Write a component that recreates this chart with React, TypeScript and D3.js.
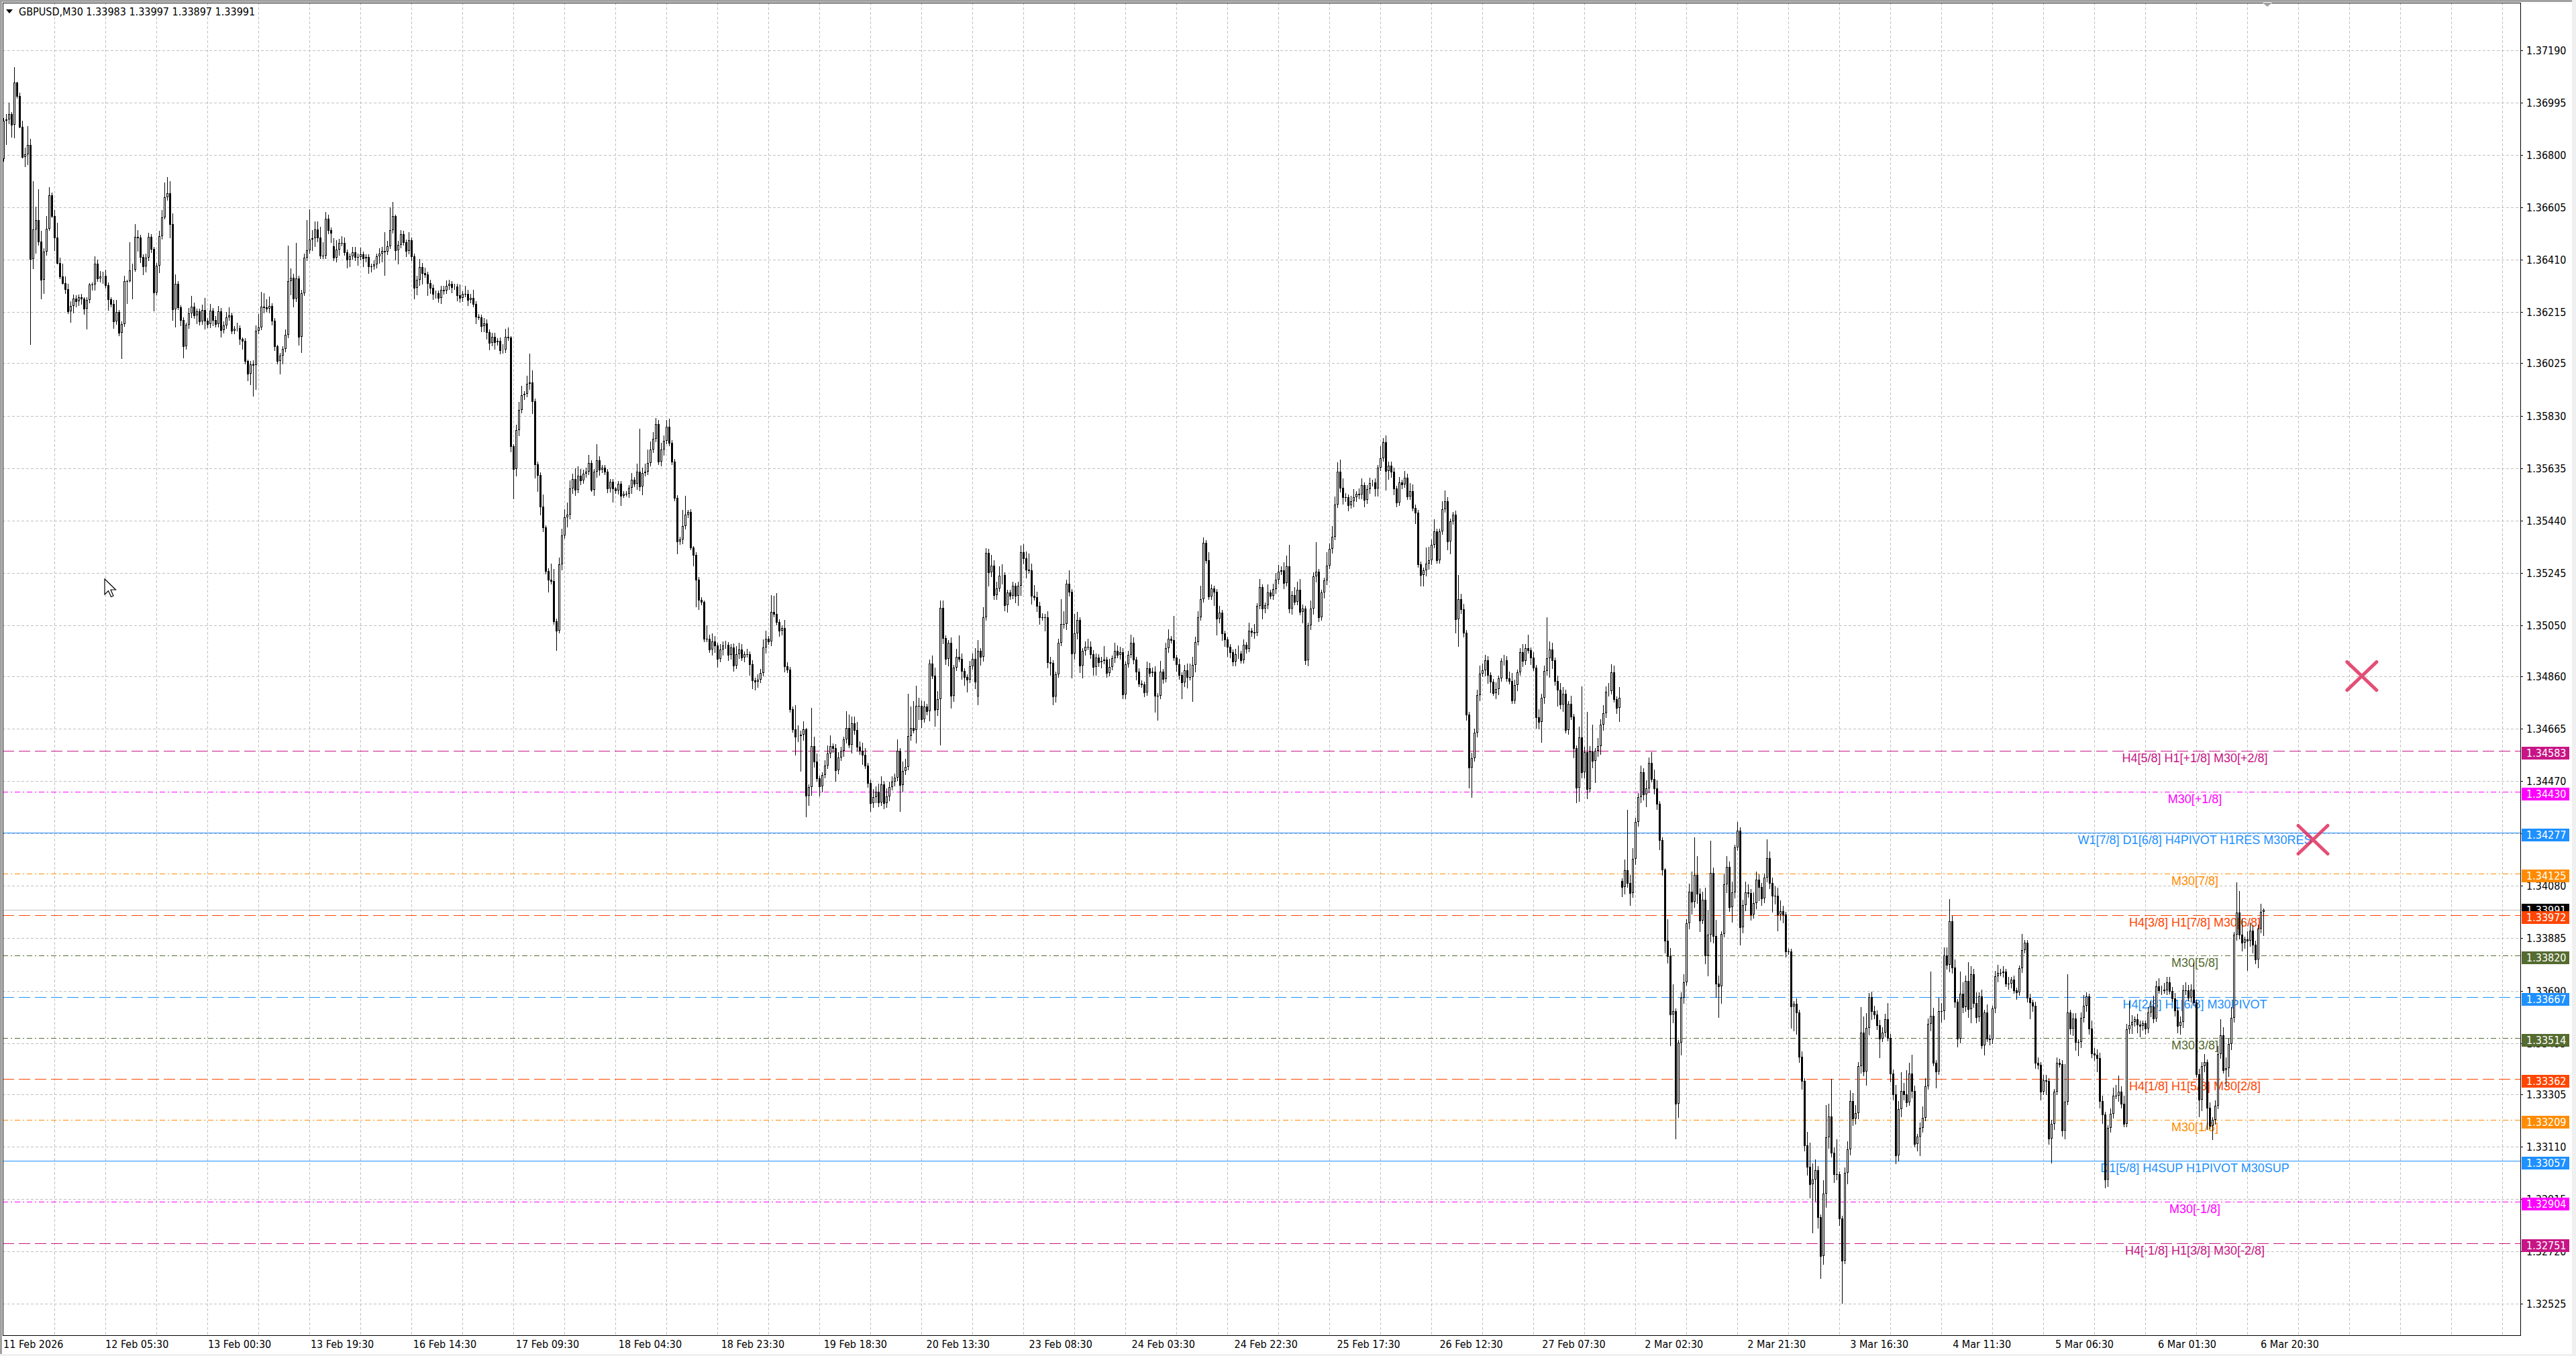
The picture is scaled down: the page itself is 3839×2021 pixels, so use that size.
import * as d3 from "d3";

// GBPUSD M30 candles, one array per trading day.
// each bar: [close, upper wick, lower wick] in 1e-5 above 1.30000; open = previous close
type Bar = [number, number, number];

const feb11: Bar[] = [
  [6927,10,8],[6934,18,87],[6954,42,15],[6913,5,44],[7069,58,48],[7019,4,6],[6906,14,4],[6794,21,4],[6804,23,37],[6837,72,39],
  [6414,24,319],[6524,180,36],[6559,48,88],[6478,114,13],[6335,40,69],[6440,13,48],[6526,48,12],[6650,31,6],[6574,11,5],[6494,22,49],
  [6399,55,4],[6349,19,8],[6324,46,4],[6301,25,14],[6218,19,6],[6239,18,40],[6267,15,26],
];
const feb12: Bar[] = [
  [6255,12,20],[6271,10,15],[6266,12,20],[6228,6,20],[6262,10,75],[6318,6,10],[6318,8,20],[6395,29,19],[6340,15,10],[6349,20,12],
  [6351,15,25],[6316,23,10],[6263,10,40],[6247,8,12],[6182,15,25],[6216,45,10],[6138,8,10],[6171,10,95],[6332,20,8],[6332,5,83],
  [6371,104,4],[6374,21,106],[6496,46,6],[6494,24,50],[6421,8,20],[6386,10,30],[6419,15,20],[6496,15,10],[6451,10,12],[6288,8,66],
  [6388,10,8],[6499,20,25],[6567,28,10],[6644,55,5],[6657,61,12],[6544,46,50],[6226,38,39],[6320,37,64],[6233,10,8],[6187,8,20],
  [6089,10,44],[6168,8,10],[6212,20,12],[6235,40,15],[6203,15,10],[6218,10,30],[6180,10,12],[6224,20,10],
];
const feb13: Bar[] = [
  [6184,45,30],[6170,10,12],[6220,25,12],[6186,10,20],[6170,15,10],[6218,20,8],[6149,12,25],[6166,15,10],[6197,20,10],[6203,30,12],
  [6147,10,12],[6153,10,10],[6155,20,8],[6116,10,20],[6108,5,30],[6033,10,10],[5987,5,25],[6022,12,40],[6018,15,114],[6147,20,90],
  [6159,50,10],[6237,54,8],[6234,50,20],[6228,30,10],[6239,35,15],[6183,10,15],[6089,10,15],[6033,5,10],[6053,10,46],[6078,10,30],
  [6130,20,10],[6332,131,10],[6343,35,50],[6266,15,30],[6340,134,10],[6124,10,30],[6287,12,58],[6418,15,8],[6445,112,10],[6485,114,10],
  [6490,30,40],[6524,30,30],[6494,30,15],[6426,40,10],[6426,50,10],[6563,25,10],[6520,15,12],[6511,10,35],
];
const feb16: Bar[] = [
  [6418,30,10],[6449,35,15],[6474,15,20],[6474,25,10],[6438,20,10],[6410,10,30],[6424,10,25],[6438,20,10],[6420,20,12],[6421,12,30],
  [6430,25,10],[6416,10,30],[6421,10,12],[6386,10,25],[6385,10,20],[6393,15,10],[6424,10,12],[6433,20,25],[6443,15,30],[6441,70,87],
  [6461,20,10],[6521,85,8],[6573,52,10],[6447,5,37],[6466,15,50],[6505,15,10],[6475,12,10],[6443,10,20],[6483,30,10],[6424,10,15],
  [6305,10,40],[6337,15,25],[6383,30,20],[6361,15,40],[6357,20,10],[6324,10,45],[6307,12,20],[6283,12,20],[6285,10,15],[6268,12,15],
  [6298,15,20],[6295,15,12],[6313,20,10],[6321,15,12],[6309,10,20],[6312,10,8],[6279,8,20],[6268,40,15],
];
const feb17: Bar[] = [
  [6283,10,12],[6283,30,10],[6260,15,20],[6268,15,10],[6246,30,10],[6198,10,25],[6196,10,8],[6164,10,20],[6173,20,20],[6142,15,25],
  [6101,10,25],[6123,15,10],[6103,15,25],[6109,10,10],[6073,12,12],[6075,20,10],[6123,30,8],[6120,35,10],[5716,5,20],[5632,8,111],
  [5777,20,25],[5852,30,20],[5906,35,10],[5911,10,15],[5950,30,10],[5953,109,20],[5883,45,45],[5649,10,50],[5610,10,60],[5493,10,30],
  [5415,45,15],[5253,8,10],[5220,10,45],[5214,60,10],[5064,45,8],[5030,10,72],[5276,25,8],[5384,25,20],[5451,30,10],[5462,45,35],
  [5558,30,15],[5593,20,15],[5554,40,20],[5607,35,10],[5588,25,15],[5613,15,10],[5621,15,12],[5655,30,10],
];
const feb18: Bar[] = [
  [5554,10,5],[5621,10,20],[5663,60,20],[5629,15,20],[5636,10,10],[5621,10,10],[5560,10,15],[5584,10,12],[5560,10,50],[5551,5,10],
  [5577,10,12],[5532,10,35],[5540,10,5],[5540,10,8],[5562,10,12],[5591,25,20],[5577,10,10],[5621,30,20],[5566,160,15],[5616,20,30],
  [5621,30,10],[5655,50,10],[5703,30,10],[5744,25,10],[5800,22,10],[5658,15,10],[5703,25,15],[5736,20,20],[5788,25,10],[5729,31,10],
  [5660,10,10],[5524,10,10],[5361,10,45],[5370,10,8],[5420,60,15],[5462,70,10],[5471,8,10],[5339,10,8],[5312,5,40],[5220,10,100],
  [5145,10,35],[5136,10,10],[4999,5,10],[4999,50,10],[4960,15,10],[4989,30,20],[4974,20,25],[4924,10,30],
];
const feb19: Bar[] = [
  [4960,20,10],[4974,15,20],[4978,15,10],[4941,10,20],[4967,12,15],[4901,15,20],[4942,30,10],[4961,25,15],[4930,20,10],[4942,10,15],
  [4942,20,10],[4905,10,40],[4844,15,30],[4840,10,30],[4848,20,20],[4872,15,10],[4967,30,10],[5001,30,20],[4991,10,10],[5099,64,15],
  [5092,60,10],[5063,77,10],[5030,10,20],[5040,10,15],[4897,30,20],[4884,15,10],[4738,12,10],[4663,10,10],[4634,90,65],[4638,40,15],
  [4643,15,130],[4663,30,20],[4416,4,77],[4449,10,35],[4601,142,30],[4543,35,20],[4480,30,10],[4451,10,35],[4493,10,20],[4528,20,10],
  [4572,30,10],[4601,40,15],[4594,10,15],[4511,15,40],[4557,20,12],[4584,15,10],[4626,10,20],[4668,62,12],
];
const feb20: Bar[] = [
  [4605,50,10],[4684,25,30],[4659,25,15],[4597,30,15],[4583,20,12],[4569,30,35],[4528,25,10],[4464,10,15],[4389,12,30],[4410,30,15],
  [4430,20,20],[4391,30,15],[4459,30,10],[4389,12,20],[4412,30,15],[4449,20,15],[4469,20,10],[4482,15,15],[4584,42,10],[4455,10,96],
  [4507,35,25],[4522,30,12],[4637,158,10],[4668,80,15],[4659,100,10],[4751,75,45],[4750,30,50],[4701,20,30],[4748,20,10],[4730,10,12],
  [4907,16,35],[4863,30,10],[4734,30,60],[4776,30,20],[5115,27,170],[5003,27,20],[4926,10,20],[4986,10,25],[4787,20,44],[4892,10,20],
  [4932,30,10],[4926,80,10],[4880,20,30],[4857,10,30],[4847,10,45],[4897,20,10],[4926,20,10],[4840,40,25],
];
const feb23: Bar[] = [
  [4955,40,30],[4932,10,30],[5081,35,15],[5319,19,10],[5246,15,50],[5273,40,15],[5163,20,15],[5188,25,15],[5234,35,12],[5236,40,30],
  [5125,10,20],[5171,10,25],[5159,12,12],[5198,15,10],[5159,10,25],[5198,15,35],[5323,25,35],[5300,30,20],[5256,25,30],[5254,60,10],
  [5159,25,30],[5155,40,10],[5123,20,20],[5080,15,25],[5080,15,10],[5081,10,50],[4913,20,20],[4909,20,45],[4784,10,30],[4867,10,20],
  [4984,15,10],[5056,90,10],[5056,45,15],[5205,15,20],[5175,50,15],[4945,10,90],[5021,70,20],[5070,30,20],[4899,10,25],[4956,10,45],
  [4971,20,15],[4971,30,10],[4942,20,15],[4896,15,30],[4931,15,30],[4913,12,15],[4917,15,20],[4923,50,10],
];
const feb24: Bar[] = [
  [4873,10,15],[4896,30,10],[4927,10,10],[4956,30,15],[4940,20,10],[4949,20,15],[4792,15,15],[4905,10,15],[4940,15,10],[4986,30,10],
  [4923,20,15],[4878,10,30],[4832,12,10],[4830,12,10],[4801,10,15],[4891,25,10],[4872,20,12],[4878,15,12],[4788,20,60],[4787,10,90],
  [4878,40,10],[4851,10,15],[4966,20,10],[5001,35,15],[4996,10,10],[4931,90,10],[4906,10,25],[4865,20,15],[4837,10,60],[4882,20,15],
  [4857,25,40],[4857,50,10],[4903,30,90],[4988,20,25],[5081,20,10],[5148,50,10],[5356,20,10],[5292,12,10],[5156,30,10],[5186,15,10],
  [5175,10,50],[5075,10,60],[5096,25,15],[5021,10,25],[4998,10,25],[4971,10,35],[4951,10,20],[4915,10,15],
];
const feb25: Bar[] = [
  [4942,20,15],[4945,30,15],[4921,10,10],[4978,20,10],[4963,10,15],[5031,30,10],[5025,10,15],[5023,30,20],[5121,10,10],[5192,30,10],
  [5111,10,35],[5125,10,15],[5171,30,12],[5160,10,10],[5184,20,12],[5219,25,15],[5250,25,15],[5254,15,10],[5206,30,20],[5269,40,10],
  [5111,80,15],[5163,15,20],[5138,30,10],[5181,30,10],[5100,40,10],[5111,15,40],[4921,10,15],[5050,10,20],[5111,30,15],[5231,15,20],
  [5250,110,20],[5081,10,15],[5173,10,10],[5217,10,20],[5271,50,15],[5334,20,10],[5379,40,15],[5500,30,10],[5622,35,10],[5561,45,15],
  [5527,35,25],[5527,15,15],[5498,10,20],[5511,20,12],[5527,30,20],[5539,10,15],[5537,20,15],[5572,25,15],
];
const feb26: Bar[] = [
  [5517,10,25],[5556,15,12],[5579,20,15],[5581,10,10],[5558,15,25],[5636,10,25],[5672,45,10],[5731,15,10],[5625,25,70],[5644,15,30],
  [5621,15,20],[5558,15,20],[5508,10,15],[5581,20,10],[5575,10,15],[5600,25,10],[5529,15,10],[5550,30,10],[5487,25,10],[5469,12,40],
  [5278,10,10],[5236,10,40],[5254,10,40],[5279,60,20],[5292,50,20],[5350,20,15],[5400,45,10],[5292,10,10],[5400,10,10],[5483,30,10],
  [5511,40,10],[5363,15,30],[5436,10,45],[5461,10,10],[5073,15,50],[5148,90,100],[5109,20,15],[5023,20,15],[4717,10,20],[4520,10,74],
  [4556,20,110],[4651,15,10],[4790,20,15],[4869,30,20],[4882,25,10],[4919,20,20],[4866,15,30],[4841,10,40],
];
const feb27: Bar[] = [
  [4797,10,8],[4812,25,20],[4852,10,20],[4917,10,10],[4921,20,15],[4852,15,10],[4842,25,10],[4771,30,10],[4828,20,10],[4876,10,20],
  [4949,15,10],[4917,30,20],[4965,15,12],[4957,50,10],[4930,10,25],[4892,20,10],[4707,10,40],[4691,30,25],[4780,15,75],[4881,20,20],
  [4928,151,15],[4959,30,70],[4921,25,30],[4842,10,15],[4809,20,60],[4754,25,15],[4795,25,25],[4661,15,10],[4758,10,15],[4711,30,10],
  [4594,10,35],[4446,10,55],[4632,40,50],[4503,190,20],[4577,20,20],[4441,150,35],[4580,20,10],[4546,100,25],[4582,10,80],[4601,30,20],
  [4680,20,30],[4723,30,20],[4802,20,15],[4806,30,15],[4876,30,10],[4776,25,10],[4742,10,20],[4780,40,50],
];
const mar02: Bar[] = [
  [4075,10,35],[4139,40,25],[4092,223,15],[4053,30,45],[4181,40,15],[4319,15,20],[4411,15,15],[4502,25,20],[4421,15,20],[4443,30,45],
  [4539,20,15],[4477,40,10],[4443,35,20],[4386,30,20],[4250,10,35],[4142,10,20],[3875,5,45],[3819,80,25],[3602,30,115],[3614,100,30],
  [3270,10,130],[3497,10,50],[3663,20,45],[3720,30,20],[3941,15,10],[4058,30,20],[4022,75,46],[4121,139,20],[4051,70,35],[3951,20,40],
  [4028,30,10],[3822,45,30],[3899,90,75],[4129,120,25],[3893,20,25],[3716,60,50],[3705,30,113],[3902,10,60],[4086,40,10],[4151,40,30],
  [4002,20,15],[4056,40,55],[4224,10,20],[4286,32,10],[3925,12,65],[4009,20,20],[4056,40,20],[4054,30,15],
];
const mar03: Bar[] = [
  [3974,15,20],[4015,40,12],[4103,30,20],[4077,20,50],[4034,15,25],[4112,15,15],[4183,70,15],[4090,25,20],[4043,20,60],[4043,35,30],
  [3974,30,60],[3987,40,20],[3974,20,30],[3837,10,20],[3837,10,10],[3631,10,80],[3641,10,90],[3609,20,80],[3445,10,20],[3355,20,30],
  [3115,10,20],[3035,50,30],[2970,90,50],[2986,60,181],[3022,40,80],[2848,15,40],[2702,10,83],[2934,50,30],[3144,120,50],[3222,47,40],
  [3086,140,15],[3006,20,30],[3006,130,20],[2841,10,25],[2686,10,158],[3012,20,10],[3099,30,40],[3280,40,20],[3215,30,25],[3235,30,20],
  [3409,15,20],[3535,95,25],[3389,60,15],[3551,55,50],[3667,15,25],[3615,20,30],[3602,20,15],[3561,15,15],
];
const mar04: Bar[] = [
  [3512,20,70],[3535,20,10],[3583,20,15],[3515,60,10],[3381,15,30],[3303,15,20],[3076,35,30],[3248,30,20],[3316,70,25],[3303,30,20],
  [3273,90,15],[3381,40,10],[3316,70,25],[3119,20,10],[3148,10,25],[3179,20,70],[3218,40,15],[3334,30,10],[3566,20,10],[3596,165,25],
  [3422,30,10],[3389,10,60],[3615,50,10],[3613,30,40],[3822,30,30],[3786,30,15],[3948,83,25],[3776,20,20],[3648,30,20],[3512,10,30],
  [3680,80,15],[3628,40,20],[3725,20,15],[3622,70,30],[3751,30,50],[3644,20,15],[3592,40,20],[3669,15,15],[3486,25,10],[3609,10,35],
  [3512,30,10],[3509,15,20],[3625,10,15],[3744,20,15],[3757,30,20],[3755,15,10],[3760,20,15],[3716,10,10],
];
const mar05: Bar[] = [
  [3716,25,20],[3731,10,15],[3691,15,10],[3684,10,25],[3773,10,10],[3842,60,15],[3869,10,10],[3664,10,15],[3647,15,60],[3635,10,20],
  [3421,15,20],[3413,20,15],[3313,10,30],[3357,20,10],[3353,20,50],[3139,10,20],[3194,15,90],[3313,10,20],[3421,20,10],[3417,15,10],
  [3169,15,20],[3276,140,30],[3610,140,10],[3550,10,20],[3587,20,25],[3498,20,30],[3498,10,50],[3590,20,20],[3635,40,15],[3669,15,20],
  [3550,10,20],[3457,30,15],[3451,20,20],[3439,20,50],[3279,20,25],[3228,20,30],[2987,10,30],[3180,10,25],[3231,20,15],[3298,30,15],
  [3298,40,10],[3313,60,20],[3268,20,15],[3194,30,10],[3546,20,10],[3561,90,15],[3575,25,30],[3584,10,15],
];
const mar06: Bar[] = [
  [3565,20,30],[3558,15,40],[3570,10,15],[3550,10,20],[3610,20,15],[3632,20,15],[3587,40,15],[3705,20,10],[3691,30,10],[3694,15,15],
  [3691,25,10],[3721,20,15],[3688,20,10],[3661,15,10],[3617,20,20],[3558,10,25],[3575,20,30],[3691,20,20],[3691,30,15],[3664,20,10],
  [3694,20,15],[3647,100,10],[3380,10,10],[3283,20,60],[3409,15,40],[3424,30,20],[3254,10,80],[3187,20,10],[3209,10,50],[3261,20,15],
  [3454,30,10],[3525,60,15],[3395,30,10],[3402,40,60],[3491,20,30],[3588,40,20],[3899,10,15],[3980,114,20],[3899,80,15],[3869,60,30],
  [3881,10,20],[3877,30,110],[3914,30,20],[3862,20,30],[3807,15,15],[3921,15,30],[3983,30,15],[3991,6,86],
];

// first bar of a session after a weekend opens away from the previous close
const sessions: { bars: Bar[]; open?: number }[] = [
  { bars: feb11, open: 6786 }, { bars: feb12 }, { bars: feb13 },
  { bars: feb16, open: 6461 }, { bars: feb17 }, { bars: feb18 }, { bars: feb19 }, { bars: feb20 },
  { bars: feb23, open: 4784 }, { bars: feb24 }, { bars: feb25 }, { bars: feb26 }, { bars: feb27 },
  { bars: mar02, open: 4099 }, { bars: mar03 }, { bars: mar04 }, { bars: mar05 }, { bars: mar06 },
];

const priceTicks = [
  1.37190, 1.36995, 1.36800, 1.36605, 1.36410, 1.36215, 1.36025, 1.35830, 1.35635, 1.35440, 1.35245, 1.35050, 1.34860,
  1.34665, 1.34470, 1.34275, 1.34080, 1.33885, 1.33690, 1.33495, 1.33305, 1.33110, 1.32915, 1.32720, 1.32525,
];
const timeLabels = [
  "11 Feb 2026", "12 Feb 05:30", "13 Feb 00:30", "13 Feb 19:30", "16 Feb 14:30", "17 Feb 09:30", "18 Feb 04:30",
  "18 Feb 23:30", "19 Feb 18:30", "20 Feb 13:30", "23 Feb 08:30", "24 Feb 03:30", "24 Feb 22:30", "25 Feb 17:30",
  "26 Feb 12:30", "27 Feb 07:30", "2 Mar 02:30", "2 Mar 21:30", "3 Mar 16:30", "4 Mar 11:30", "5 Mar 06:30",
  "6 Mar 01:30", "6 Mar 20:30",
];

// Murrey math levels
const levelPrices = [1.34583, 1.34430, 1.34277, 1.34125, 1.33972, 1.33820, 1.33667, 1.33514, 1.33362, 1.33209, 1.33057, 1.32904, 1.32751];
const levelNames = [
  "H4[5/8] H1[+1/8] M30[+2/8]", "M30[+1/8]", "W1[7/8] D1[6/8] H4PIVOT H1RES M30RES", "M30[7/8]",
  "H4[3/8] H1[7/8] M30[6/8]", "M30[5/8]", "H4[2/8] H1[6/8] M30PIVOT", "M30[3/8]", "H4[1/8] H1[5/8] M30[2/8]",
  "M30[1/8]", "D1[5/8] H4SUP H1PIVOT M30SUP", "M30[-1/8]", "H4[-1/8] H1[3/8] M30[-2/8]",
];
const levelKinds = ["dash", "dashdot", "solid", "dashdot", "dash", "dashdot", "dash", "dashdot", "dash", "dashdot", "solid", "dashdot", "dash"];
const levelColors = ["#c71585", "#ff00ff", "#1e90ff", "#ff8c00", "#ff4500", "#556b2f", "#1e90ff", "#556b2f", "#ff4500", "#ff8c00", "#1e90ff", "#ff00ff", "#c71585"];
const bid = 1.33991;
// two cross markers to the right of the last bar
const crossPrices = [1.34252, 1.34861];
const crossBars = [860.5, 878.7];

const W = 3839;
const H = 2021;
const PL = 4, PT = 4, PR = 3756, PB = 1990;
const FONT = "'DejaVu Sans Condensed', 'DejaVu Sans', sans-serif";
const LABEL_FONT = "'Liberation Sans', Arial, sans-serif";
const dashes: Record<string, string | undefined> = { dash: "17,7", dashdot: "8,4,2,4", solid: undefined };

interface Candle { o: number; h: number; l: number; c: number }

function buildCandles(): Candle[] {
  const out: Candle[] = [];
  let prev = 0;
  sessions.forEach((s) => {
    s.bars.forEach(([c, up, dn], j) => {
      const o = j === 0 && s.open != null ? s.open : prev;
      const p = (v: number) => 1.3 + v / 1e5;
      out.push({ o: p(o), c: p(c), h: p(Math.max(o, c) + up), l: p(Math.min(o, c) - dn) });
      prev = c;
    });
  });
  return out;
}

export default function App() {
  const candles = buildCandles();
  const n = candles.length;

  const x = d3.scaleLinear().domain([0, n - 1]).range([5, 5 + 4 * (n - 1)]);
  const y = d3.scaleLinear().domain([1.32525, 1.37190]).range([1943, 75]);
  const ry = (p: number) => Math.round(y(p));
  // time labels drift slightly against the bar grid in the terminal; spread them evenly
  const labelX = d3.scaleLinear().domain([1, timeLabels.length - 1]).range([157, 3369]);

  const vGrid = d3.range(1, 50).map((k) => Math.round(x(19 * k)) + 0.5);

  return (
    <div style={{ position: "absolute", left: 0, top: 0 }}>
      <svg width={W} height={H} style={{ display: "block" }} fontFamily={FONT}>
        <rect width={W} height={H} fill="#f0f0f0" />
        <rect x={0} y={0} width={3833} height={2018} fill="#ffffff" />
        <rect x={0} y={0} width={3833} height={3} fill="#a0a0a0" />
        <rect x={0} y={0} width={3} height={2018} fill="#a0a0a0" />

        {/* grid */}
        <g stroke="#c0c0c0" strokeWidth={1} strokeDasharray="4,3" shapeRendering="crispEdges">
          {priceTicks.map((t) => (
            <line key={t} x1={PL} x2={PR} y1={ry(t) + 0.5} y2={ry(t) + 0.5} />
          ))}
          {vGrid.map((gx) => (
            <line key={gx} x1={gx} x2={gx} y1={PT} y2={PB} />
          ))}
        </g>

        {/* bid line */}
        <line x1={PL} x2={PR} y1={ry(bid) + 0.5} y2={ry(bid) + 0.5} stroke="#c0c0c0" shapeRendering="crispEdges" />

        {/* level lines */}
        <g shapeRendering="crispEdges">
          {levelPrices.map((p, i) => (
            <line key={p} x1={PL} x2={PR} y1={ry(p) + 0.5} y2={ry(p) + 0.5}
              stroke={levelColors[i]} strokeWidth={1} strokeDasharray={dashes[levelKinds[i]]} />
          ))}
        </g>

        {/* level names */}
        <g fontSize={18} textAnchor="middle" fontFamily={LABEL_FONT}>
          {levelPrices.map((p, i) => (
            <text key={p} x={3271} y={y(p) + 17} fill={levelColors[i]}>{levelNames[i]}</text>
          ))}
        </g>

        {/* candles */}
        <g shapeRendering="crispEdges">
          {candles.map((d, i) => {
            const cx = Math.round(x(i));
            const yo = ry(d.o), yc = ry(d.c);
            const wick = (
              <line x1={cx + 0.5} x2={cx + 0.5} y1={ry(d.h)} y2={ry(d.l) + 1} stroke="#000" />
            );
            let body;
            if (Math.abs(yo - yc) < 1) {
              body = <line x1={cx - 1} x2={cx + 2} y1={yc + 0.5} y2={yc + 0.5} stroke="#000" />;
            } else if (d.c > d.o) {
              body = <rect x={cx - 0.5} y={yc + 0.5} width={2} height={yo - yc - 1} fill="#fff" stroke="#000" />;
            } else {
              body = <rect x={cx - 1} y={yo} width={3} height={yc - yo + 1} fill="#000" />;
            }
            return <g key={i}>{wick}{body}</g>;
          })}
        </g>

        {/* cross markers */}
        <g stroke="#e0305f" strokeWidth={5} strokeLinecap="round" opacity={0.85}>
          {crossPrices.map((p, i) => {
            const cx = x(crossBars[i]);
            const cy = y(p);
            return (
              <g key={i}>
                <line x1={cx - 22} y1={cy - 21} x2={cx + 22} y2={cy + 21} />
                <line x1={cx - 22} y1={cy + 21} x2={cx + 22} y2={cy - 21} />
              </g>
            );
          })}
        </g>

        {/* plot frame */}
        <rect x={PL + 0.5} y={PT + 0.5} width={PR - PL} height={PB - PT} fill="none" stroke="#000" shapeRendering="crispEdges" />

        {/* price axis */}
        <g fontSize={16} fill="#000">
          {priceTicks.map((t) => (
            <g key={t}>
              <line x1={PR} x2={PR + 4} y1={ry(t) + 0.5} y2={ry(t) + 0.5} stroke="#000" shapeRendering="crispEdges" />
              <text x={3765} y={y(t) + 6}>{t.toFixed(5)}</text>
            </g>
          ))}
        </g>
        <g fontSize={16}>
          <rect x={3758} y={ry(bid) - 9} width={71} height={19} fill="#000" />
          <text x={3765} y={ry(bid) + 6} fill="#fff">{bid.toFixed(5)}</text>
          {levelPrices.map((p, i) => (
            <g key={p}>
              <rect x={3758} y={ry(p) - 6} width={71} height={19} fill={levelColors[i]} />
              <text x={3765} y={ry(p) + 9} fill="#fff">{p.toFixed(5)}</text>
            </g>
          ))}
        </g>

        {/* time axis */}
        <g fontSize={16} fill="#000">
          {timeLabels.map((s, k) => (
            <text key={s} x={k === 0 ? 5 : labelX(k)} y={2009}>{s}</text>
          ))}
        </g>

        {/* title */}
        <path d="M9,14 L19,14 L14,20 Z" fill="#000" />
        <text x={28} y={23} fontSize={16} fill="#000">GBPUSD,M30  1.33983 1.33997 1.33897 1.33991</text>

        {/* chart shift marker */}
        <path d="M3372,4 L3386,4 L3379,10 Z" fill="#a0a0a0" />

        {/* mouse pointer */}
        <path d="M156,863 L156,886 L161.5,880.5 L165.5,889.5 L169,888 L165,879 L172.5,879 Z"
          fill="#fff" stroke="#000" strokeWidth={1.2} />
      </svg>
    </div>
  );
}
